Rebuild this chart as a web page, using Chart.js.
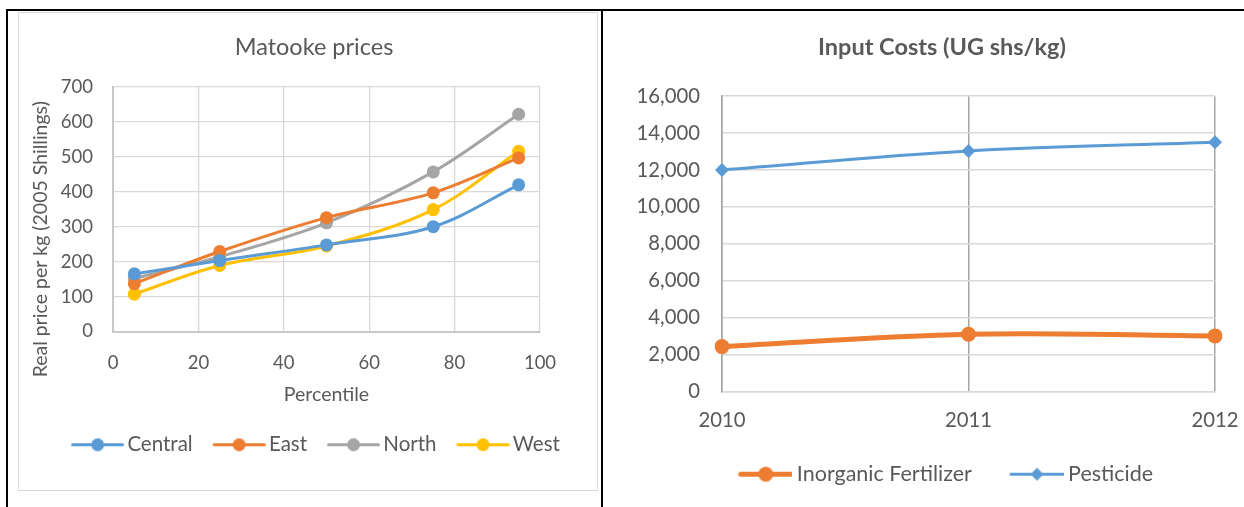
<!DOCTYPE html>
<html>
<head>
<meta charset="utf-8">
<title>Matooke prices and input costs</title>
<script src="https://cdn.jsdelivr.net/npm/chart.js@4.4.1/dist/chart.umd.min.js"></script>
<style>
  html, body { margin: 0; padding: 0; background: #ffffff; }
  #page { position: relative; width: 1244px; height: 507px; overflow: hidden; background: #ffffff; }
  .rule { position: absolute; background: #000000; }
  #leftBox { position: absolute; left: 18px; top: 12px; width: 578px; height: 477px; border: 1px solid #d9d9d9; }
  #rightBox { position: absolute; left: 608px; top: 12px; width: 636px; height: 495px; overflow: hidden; }
</style>
</head>
<body>
<div id="page">
  <div class="rule" style="left:7px; top:9px; width:1237px; height:2px;"></div>
  <div class="rule" style="left:6px; top:9px; width:2px; height:498px;"></div>
  <div class="rule" style="left:601px; top:9px; width:2px; height:498px;"></div>
  <div id="leftBox"><canvas id="matooke" width="578" height="477"></canvas></div>
  <div id="rightBox"><canvas id="inputs" width="668" height="495"></canvas></div>
</div>
<script>
// Matooke real prices by percentile (2005 Shillings per kg)
const percentiles = [5, 25, 50, 75, 95];
const central = [165, 203, 248, 300, 420];
const east    = [137, 229, 326, 397, 497];
const north   = [152, 214, 311, 457, 622];
const west    = [107, 189, 245, 349, 516];

// Input costs (UG shs/kg)
const years = ['2010', '2011', '2012'];
const fertilizer = [2420, 3090, 3000];
const pesticide  = [12000, 13030, 13500];

const TEXT = '#595959';
const GRID = '#d9d9d9';
const FONT = 'Lato';

// Legend swatch: a short line with the series marker in the middle,
// optionally preceded by some empty space
function swatch(color, style, lineW, r, w, lead) {
  lead = lead || 0;
  const h = Math.ceil(2 * r + 4);
  const c = document.createElement('canvas');
  c.width = w + lead; c.height = h;
  const g = c.getContext('2d');
  g.translate(lead, 0);
  g.strokeStyle = color; g.lineWidth = lineW; g.lineCap = 'round';
  g.beginPath(); g.moveTo(lineW / 2, h / 2); g.lineTo(w - lineW / 2, h / 2); g.stroke();
  g.fillStyle = color;
  g.beginPath();
  if (style === 'rectRot') {
    g.moveTo(w / 2, h / 2 - r); g.lineTo(w / 2 + r, h / 2);
    g.lineTo(w / 2, h / 2 + r); g.lineTo(w / 2 - r, h / 2); g.closePath();
  } else {
    g.arc(w / 2, h / 2, r, 0, Math.PI * 2);
  }
  g.fill();
  return c;
}

function legendWithSwatches(swatches) {
  return function (chart) {
    const items = Chart.defaults.plugins.legend.labels.generateLabels(chart);
    items.forEach((it, i) => { it.pointStyle = swatches[i]; it.fontColor = TEXT; });
    return items;
  };
}

// Fix an axis box size (and the space kept right of the plot)
function fixBox(props) {
  return function (scale) { Object.assign(scale, props); };
}

// Vertical value-axis title, set a little below the middle of the plot
const sideTitle = {
  id: 'sideTitle',
  afterDraw(chart, args, opts) {
    if (!opts.text) return;
    const { ctx, chartArea } = chart;
    ctx.save();
    ctx.font = opts.size + 'px ' + FONT;
    ctx.fillStyle = TEXT;
    ctx.textAlign = 'center';
    ctx.textBaseline = 'middle';
    ctx.translate(opts.x, (chartArea.top + chartArea.bottom) / 2 + opts.shift);
    ctx.rotate(-Math.PI / 2);
    ctx.fillText(opts.text, 0, 0);
    ctx.restore();
  }
};

const regions = [
  { label: 'Central', data: central, color: '#5b9bd5' },
  { label: 'East',    data: east,    color: '#ed7d31' },
  { label: 'North',   data: north,   color: '#a5a5a5' },
  { label: 'West',    data: west,    color: '#ffc000' }
];

new Chart(document.getElementById('matooke'), {
  type: 'line',
  plugins: [sideTitle],
  data: {
    datasets: regions.map(r => ({
      label: r.label,
      data: percentiles.map((p, i) => ({ x: p, y: r.data[i] })),
      borderColor: r.color,
      backgroundColor: r.color,
      borderWidth: 3,
      pointRadius: 6.5,
      pointBorderWidth: 0,
      pointStyle: 'circle',
      tension: 0.35,
      fill: false
    }))
  },
  options: {
    responsive: false,
    animation: false,
    layout: { padding: { left: 12, right: 0, top: 0, bottom: 25 } },
    plugins: {
      title: {
        display: true,
        text: 'Matooke prices',
        color: TEXT,
        font: { family: FONT, size: 23.5, weight: 'normal' },
        padding: { top: 20, bottom: 25.8 }
      },
      sideTitle: { text: 'Real price per kg (2005 Shillings)', size: 19.5, x: 22, shift: 30 },
      legend: {
        position: 'bottom',
        labels: {
          usePointStyle: true,
          pointStyleWidth: 49,
          padding: 17,
          color: TEXT,
          font: { family: FONT, size: 20.5 },
          generateLabels: legendWithSwatches(regions.map(r => swatch(r.color, 'circle', 3, 6.5, 53, 10)))
        }
      },
      tooltip: { enabled: false }
    },
    scales: {
      x: {
        type: 'linear',
        min: 0, max: 100,
        ticks: { stepSize: 20, color: TEXT, padding: 20, font: { family: FONT, size: 18.5 } },
        grid: { color: GRID, lineWidth: 1.3, drawTicks: false },
        border: { color: '#c8c8c8', width: 2 },
        title: { display: true, text: 'Percentile', color: TEXT, font: { family: FONT, size: 19.5 }, padding: { top: 0, bottom: 11.3 } },
        afterFit: fixBox({ height: 86, paddingRight: 57 })
      },
      y: {
        type: 'linear',
        min: 0, max: 700,
        ticks: { stepSize: 100, color: TEXT, padding: 20, font: { family: FONT, size: 18.5 } },
        grid: { color: GRID, lineWidth: 1.3, drawTicks: false },
        border: { color: '#c8c8c8', width: 2 },
        afterFit: fixBox({ width: 82 })
      }
    }
  }
});

new Chart(document.getElementById('inputs'), {
  type: 'line',
  data: {
    labels: years,
    datasets: [
      {
        label: 'Inorganic Fertilizer',
        data: fertilizer,
        borderColor: '#ed7d31',
        backgroundColor: '#ed7d31',
        borderWidth: 5,
        pointRadius: 7.5,
        pointBorderWidth: 0,
        pointStyle: 'circle',
        tension: 0.35,
        fill: false
      },
      {
        label: 'Pesticide',
        data: pesticide,
        borderColor: '#5b9bd5',
        backgroundColor: '#5b9bd5',
        borderWidth: 3,
        pointRadius: 7,
        pointBorderWidth: 0,
        pointStyle: 'rectRot',
        tension: 0.35,
        fill: false
      }
    ]
  },
  options: {
    responsive: false,
    animation: false,
    layout: { padding: { left: 0, right: 0, top: 0, bottom: 12 } },
    plugins: {
      title: {
        display: true,
        text: 'Input Costs (UG shs/kg)',
        color: TEXT,
        font: { family: FONT, size: 23.5, weight: 'bold' },
        padding: { top: 21, bottom: 35 }
      },
      legend: {
        position: 'bottom',
        labels: {
          usePointStyle: true,
          pointStyleWidth: 55.25,
          padding: 30.25,
          color: TEXT,
          font: { family: FONT, size: 21.5 },
          generateLabels: legendWithSwatches([
            swatch('#ed7d31', 'circle', 5, 7.5, 55, 13.75),
            swatch('#5b9bd5', 'rectRot', 3, 6.5, 55, 13.75)
          ])
        }
      },
      tooltip: { enabled: false }
    },
    scales: {
      x: {
        type: 'category',
        offset: false,
        ticks: { color: TEXT, padding: 17, font: { family: FONT, size: 20.3 } },
        grid: { color: '#a6a6a6', lineWidth: 1.5, drawTicks: false },
        border: { color: GRID, width: 1.5 },
        afterFit: fixBox({ height: 42, paddingRight: 61 })
      },
      y: {
        min: 0, max: 16000,
        ticks: {
          stepSize: 2000, color: TEXT, padding: 22, font: { family: FONT, size: 20.3 },
          callback: v => v.toLocaleString('en-US')
        },
        grid: { color: GRID, lineWidth: 1.5, drawTicks: false },
        border: { color: '#a6a6a6', width: 1.5 },
        afterFit: fixBox({ width: 114 })
      }
    }
  }
});
</script>
</body>
</html>
